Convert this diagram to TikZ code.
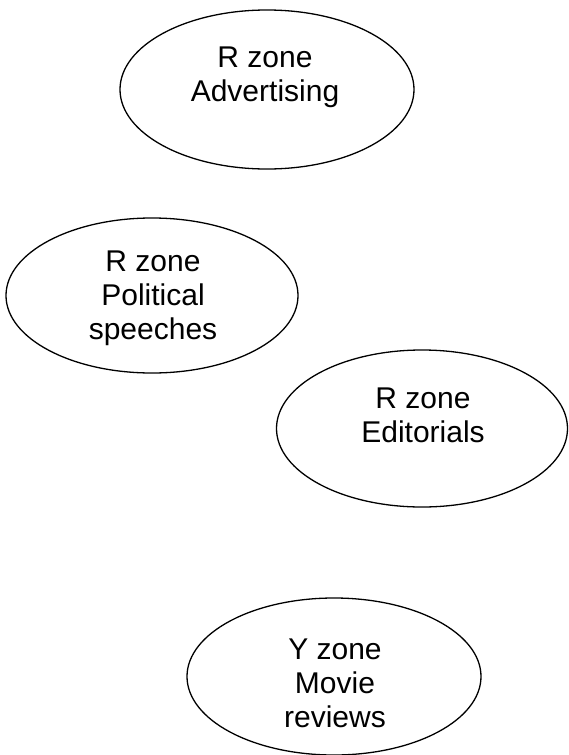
\documentclass[tikz,border=0pt]{standalone}
\usepackage{fontspec}
\setmainfont{Liberation Sans}
\usetikzlibrary{shapes.geometric}
\begin{document}
\begin{tikzpicture}[x=1pt,y=-1pt,
  zone/.style={draw=black, line width=1.3pt, ellipse, inner sep=0pt, fill=none},
  lbl/.style={align=center, inner sep=0pt, font=\fontsize{30}{34}\selectfont}]
\useasboundingbox[fill=white] (0,0) rectangle (568,755);
\node[zone, minimum width=294pt, minimum height=159pt] (adv) at (267,89.5) {};
\node[lbl] (advt) at (265,77) {R zone\\Advertising};
\node[zone, minimum width=292pt, minimum height=155pt] (pol) at (152,295.5) {};
\node[lbl] (polt) at (153,298) {R zone\\Political\\speeches};
\node[zone, minimum width=291pt, minimum height=157pt] (edi) at (422,428.5) {};
\node[lbl] (edit) at (423,415) {R zone\\Editorials};
\node[zone, minimum width=294pt, minimum height=157pt] (mov) at (334,676.5) {};
\node[lbl] (movt) at (335,683) {Y zone\\Movie\\reviews};
\end{tikzpicture}
\end{document}
